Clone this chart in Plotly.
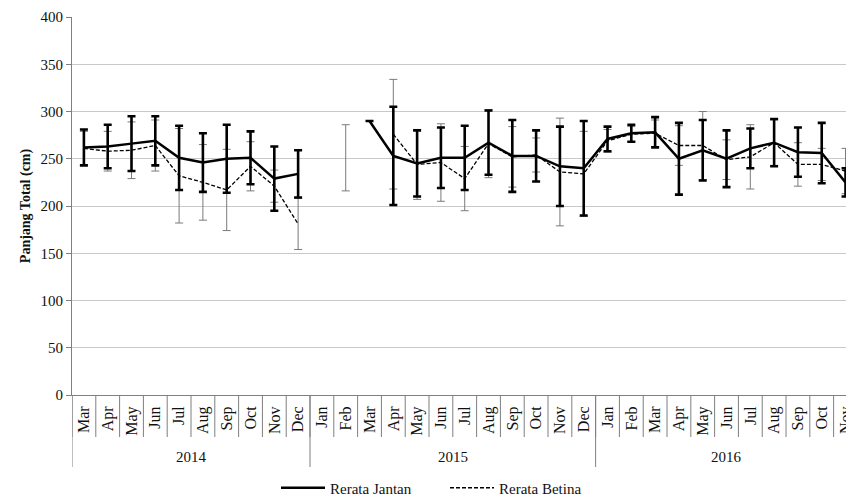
import plotly.graph_objects as go

# Monthly categories (2014 Mar .. 2016 Nov)
months = ["Mar", "Apr", "May", "Jun", "Jul", "Aug", "Sep", "Oct", "Nov", "Dec",
          "Jan", "Feb", "Mar", "Apr", "May", "Jun", "Jul", "Aug", "Sep", "Oct", "Nov", "Dec",
          "Jan", "Feb", "Mar", "Apr", "May", "Jun", "Jul", "Aug", "Sep", "Oct", "Nov"]
years = ["2014", "2015", "2016"]
year_counts = [10, 12, 11]

# Mean total length (cm) and standard deviation
jantan_mean = [262, 263, 266, 269, 251, 246, 250, 251, 229, 234,
               None, None, 290, 253, 245, 251, 251, 267, 253, 253, 242, 240,
               271, 277, 278, 250, 259, 250, 261, 267, 257, 256, 225]
jantan_sd = [19, 23, 29, 26, 34, 31, 36, 28, 34, 25,
             None, None, None, 52, 35, 32, 34, 34, 38, 27, 42, 50,
             13, 9, 16, 38, 32, 30, 21, 25, 26, 32, 15]

betina_mean = [261, 258, 259, 264, 232, 225, 217, 242, 221, 181,
               None, 251, None, 276, 244, 246, 229, 266, 252, 254, 236, 234,
               269, 276, 277, 264, 264, 249, 252, 267, 244, 244, 237]
betina_sd = [18, 21, 30, 27, 50, 40, 43, 26, 17, 27,
             None, 35, None, 58, 37, 41, 34, 36, 32, 18, 57, 45,
             12, 8, 14, 21, 36, 21, 34, 24, 23, 17, 24]

x = list(range(len(months)))
FONT = "Liberation Serif, Times New Roman, serif"
TXT = "#111"

fig = go.Figure()

fig.add_trace(go.Scatter(
    x=x, y=betina_mean, mode="lines", name="Rerata Betina",
    line=dict(color="black", width=1.3, dash="4px,2px"),
    error_y=dict(type="data", array=betina_sd, color="#7a7a7a", thickness=1, width=4),
    connectgaps=False,
))
fig.add_trace(go.Scatter(
    x=x, y=jantan_mean, mode="lines", name="Rerata Jantan",
    line=dict(color="black", width=2.5),
    error_y=dict(type="data", array=jantan_sd, color="black", thickness=2.6, width=4),
    connectgaps=False,
))

# Category separators below the axis
axis_h = 378.0
shapes = []
for i in range(len(months) + 1):
    shapes.append(dict(type="line", xref="x", yref="paper",
                       x0=i - 0.5, x1=i - 0.5, y0=0, y1=-42 / axis_h,
                       line=dict(color="#7f7f7f", width=1)))
# Year separators
pos = -0.5
bounds = [pos]
for c in year_counts:
    pos += c
    bounds.append(pos)
for b in bounds:
    shapes.append(dict(type="line", xref="x", yref="paper",
                       x0=b, x1=b, y0=0, y1=-72 / axis_h,
                       line=dict(color="#7f7f7f", width=1)))

annotations = []
for yr, lo, hi in zip(years, bounds[:-1], bounds[1:]):
    annotations.append(dict(x=(lo + hi) / 2, y=-62 / axis_h, xref="x", yref="paper",
                            text=yr, showarrow=False, yanchor="middle",
                            font=dict(family=FONT, size=15, color=TXT)))

fig.update_layout(
    width=846, height=498,
    margin=dict(l=72, r=0, t=17, b=103, autoexpand=False),
    plot_bgcolor="white", paper_bgcolor="white",
    showlegend=True,
    legend=dict(orientation="h", x=(276 - 72) / 774, xanchor="left",
                y=-93 / axis_h, yanchor="middle",
                font=dict(family=FONT, size=15, color=TXT), traceorder="reversed",
                itemwidth=44, entrywidth=110, entrywidthmode="pixels",
                bgcolor="rgba(0,0,0,0)"),
    shapes=shapes, annotations=annotations,
)
fig.update_xaxes(
    range=[-0.5, 32.02], tickmode="array", tickvals=x, ticktext=months,
    tickangle=-90, showgrid=False, zeroline=False, ticks="", automargin=False,
    ticklabeloverflow="allow", ticklabelstandoff=4,
    showline=True, linecolor="#7f7f7f", linewidth=1,
    tickfont=dict(family=FONT, size=16, color=TXT),
)
fig.update_yaxes(
    range=[0, 400], dtick=50, showgrid=True, gridcolor="#c8c8c8", gridwidth=1,
    zeroline=False, showline=True, linecolor="#7f7f7f", linewidth=1, automargin=False,
    ticks="outside", ticklen=5, tickcolor="#7f7f7f",
    tickfont=dict(family=FONT, size=15, color=TXT),
    title=dict(text="<b>Panjang Total (cm)</b>", font=dict(family=FONT, size=14, color=TXT),
               standoff=6),
)

fig.write_html("out.html")
